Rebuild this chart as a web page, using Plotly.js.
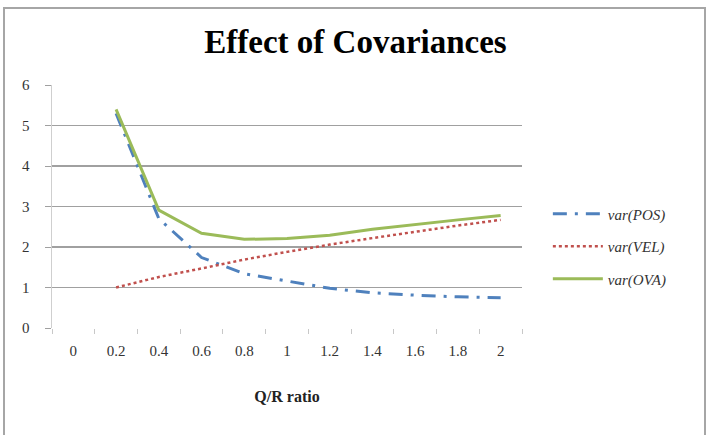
<!DOCTYPE html>
<html>
<head>
<meta charset="utf-8">
<script src="https://cdn.plot.ly/plotly-3.0.1.min.js"></script>
<style>
  html, body { margin: 0; padding: 0; background: #fff; }
  #wrap { position: relative; width: 711px; height: 435px; }
  #chart { width: 711px; height: 435px; }
  #frame { position: absolute; left: 3px; top: 7px; width: 699px; height: 440px;
           border: 2px solid #a6a6a6; pointer-events: none; }
</style>
</head>
<body>
<div id="wrap">
  <div id="chart"></div>
  <div id="frame"></div>
</div>
<script>
const categories = ['0', '0.2', '0.4', '0.6', '0.8', '1', '1.2', '1.4', '1.6', '1.8', '2'];
const varPOS = [null, 5.3, 2.7, 1.74, 1.34, 1.16, 0.98, 0.87, 0.81, 0.77, 0.75];
const varVEL = [null, 1.0, 1.26, 1.47, 1.69, 1.88, 2.06, 2.22, 2.38, 2.53, 2.67];
const varOVA = [null, 5.4, 2.91, 2.34, 2.19, 2.21, 2.29, 2.44, 2.56, 2.67, 2.78];
const seriesNames = ['var(POS)', 'var(VEL)', 'var(OVA)'];

const SERIF = "'Liberation Serif', 'Times New Roman', serif";

const traces = [
  { x: categories, y: varPOS, name: seriesNames[0], legendgroup: 'a', type: 'scatter', mode: 'lines',
    line: { color: '#4F81BD', width: 3, dash: '14px,8px,3px,8px' } },
  { x: categories, y: varVEL, name: seriesNames[1], legendgroup: 'b', type: 'scatter', mode: 'lines',
    line: { color: '#C0504D', width: 2.5, dash: 'dot' } },
  { x: categories, y: varOVA, name: seriesNames[2], legendgroup: 'c', type: 'scatter', mode: 'lines',
    line: { color: '#9BBB59', width: 3 } }
];

const layout = {
  width: 711, height: 435,
  margin: { l: 52, r: 189, t: 85, b: 107 },
  paper_bgcolor: '#fff', plot_bgcolor: '#fff',
  font: { family: SERIF, color: '#222', size: 14 },
  title: { text: '<b>Effect of Covariances</b>', x: 0.5, xref: 'container', xanchor: 'center',
           y: 0.905, yanchor: 'middle',
           font: { family: SERIF, size: 33, color: '#000' } },
  showlegend: true,
  legend: { x: 1.055, xanchor: 'left', y: 0.335, yanchor: 'middle', traceorder: 'grouped',
            tracegroupgap: 10, itemwidth: 50,
            font: { family: SERIF, size: 15, style: 'italic', color: '#333' } },
  xaxis: {
    type: 'category', categoryorder: 'array', categoryarray: categories,
    range: [-0.5, 10.5],
    tickson: 'boundaries', ticks: 'outside', ticklen: 5, tickcolor: '#c8c8c8',
    ticklabelstandoff: 12,
    showline: false, showgrid: false, zeroline: false,
    tickfont: { family: SERIF, size: 15, color: '#333' },
    title: { text: '<b>Q/R ratio</b>', font: { family: SERIF, size: 16, color: '#222' }, standoff: 32 }
  },
  yaxis: {
    range: [0, 6], dtick: 1, tick0: 0,
    showline: true, linecolor: '#cfcfcf', linewidth: 1.5,
    showgrid: true, gridcolor: '#a0a0a0', gridwidth: 1.2, zeroline: false,
    ticks: 'outside', ticklen: 6, tickcolor: '#a0a0a0',
    ticklabelstandoff: 12,
    tickfont: { family: SERIF, size: 15, color: '#333' }
  }
};

Plotly.newPlot('chart', traces, layout, { displayModeBar: false, staticPlot: true });
</script>
</body>
</html>
